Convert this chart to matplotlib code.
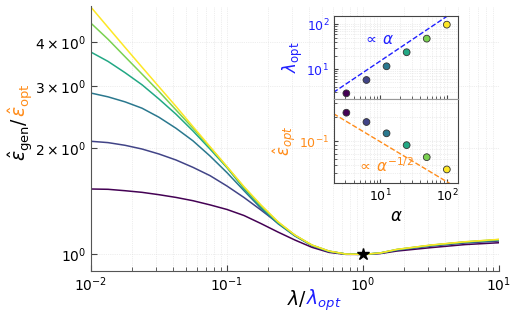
"""
Generalisation error ratio vs regularisation, with inset of optimal values
"""
import numpy as np
import matplotlib
matplotlib.use("Agg")
from matplotlib import pyplot as plt
from matplotlib import ticker

BLUE = "#1f1fff"
ORANGE = "#ff8c1a"

# ---- main panel data ----
lam_ratio = [0.01, 0.01334, 0.01778, 0.02371, 0.03162, 0.04217, 0.05623,
             0.07499, 0.1, 0.1334, 0.1778, 0.2371, 0.3162, 0.4217, 0.5623,
             0.7499, 1.0, 1.334, 1.778, 3.162, 5.623, 10.0]
err_a3 = [1.533, 1.530, 1.516, 1.500, 1.477, 1.451, 1.420, 1.382, 1.341,
          1.289, 1.223, 1.157, 1.098, 1.047, 1.013, 1.0, 1.0,
          1.005, 1.022, 1.045, 1.066, 1.079]
err_a6 = [2.094, 2.076, 2.040, 1.991, 1.927, 1.853, 1.766, 1.673, 1.563,
          1.450, 1.336, 1.227, 1.131, 1.058, 1.017, 1.002, 1.0,
          1.007, 1.028, 1.056, 1.077, 1.091]
err_a12 = [2.87, 2.80, 2.71, 2.60, 2.45, 2.28, 2.10, 1.902, 1.706,
           1.516, 1.351, 1.222, 1.127, 1.060, 1.020, 1.002, 1.0,
           1.008, 1.030, 1.059, 1.082, 1.098]
err_a25 = [3.75, 3.53, 3.28, 3.03, 2.76, 2.50, 2.24, 1.991, 1.762,
           1.536, 1.366, 1.230, 1.132, 1.061, 1.021, 1.002, 1.0,
           1.009, 1.032, 1.061, 1.084, 1.099]
err_a50 = [4.53, 4.08, 3.64, 3.25, 2.90, 2.57, 2.28, 2.013, 1.772,
           1.550, 1.375, 1.235, 1.133, 1.062, 1.021, 1.002, 1.0,
           1.009, 1.033, 1.062, 1.085, 1.102]
err_a100 = [5.03, 4.41, 3.87, 3.40, 2.99, 2.63, 2.305, 2.022, 1.774,
            1.556, 1.381, 1.238, 1.134, 1.063, 1.022, 1.002, 1.0,
            1.009, 1.033, 1.063, 1.086, 1.103]
curves = [err_a3, err_a6, err_a12, err_a25, err_a50, err_a100]

# ---- inset data ----
alpha = [3.125, 6.25, 12.5, 25, 50, 100]
lam_opt = [2.86, 5.68, 11.5, 23.7, 47.7, 98]
eps_opt = [0.226, 0.173, 0.125, 0.089, 0.063, 0.0443]
ref_alpha = [2, 150]
ref_lam = [3.0, 225]
ref_eps = [0.22, 0.0254]

colors = [plt.cm.viridis(v) for v in np.linspace(0, 1, len(curves))]

fig = plt.figure(figsize=(5.19, 3.2), dpi=100)
W, H = 519, 320


def box(x0, y0, x1, y1):
    # pixel box (top-left origin) -> figure rect
    return [x0 / W, 1 - y1 / H, (x1 - x0) / W, (y1 - y0) / H]


ax = fig.add_axes(box(91, 6, 499, 271))
for c, y in zip(colors, curves):
    ax.plot(lam_ratio, y, color=c, lw=1.1)
ax.plot([1.0], [1.0], marker="*", color="k", ms=9, zorder=5)
ax.set_xscale("log")
ax.set_yscale("log")
ax.set_xlim(0.01, 10)
ax.set_ylim(0.897, 5.07)
ax.yaxis.set_major_locator(ticker.FixedLocator([1, 2, 3, 4]))
ax.yaxis.set_minor_locator(ticker.NullLocator())
ax.set_yticklabels([r"$10^0$", r"$2\times10^0$", r"$3\times10^0$",
                    r"$4\times10^0$"])
ax.xaxis.set_major_locator(ticker.LogLocator(base=10, numticks=10))
ax.xaxis.set_minor_locator(ticker.LogLocator(base=10, subs=np.arange(2, 10),
                                             numticks=20))
ax.xaxis.set_minor_formatter(ticker.NullFormatter())
ax.tick_params(direction="in", labelsize=10, length=4, color="#444444")
ax.tick_params(which="minor", direction="in", length=3, color="#444444")
for s in ["top", "right"]:
    ax.spines[s].set_visible(False)
for s in ["left", "bottom"]:
    ax.spines[s].set_color("#555555")
ax.grid(True, which="both", ls=":", lw=0.5, color="#dddddd")

# two-colour labels
fig.canvas.draw()
r = fig.canvas.get_renderer()
tx = 27 / W
t1 = fig.text(tx, 1 - 161 / H, r"$\hat{\varepsilon}_{\rm gen}/$", fontsize=13.5,
              rotation=90, rotation_mode="anchor", ha="left", va="baseline")
bb = t1.get_window_extent(r)
fig.text(tx, bb.y1 / fig.bbox.height, r"$\hat{\varepsilon}_{\rm opt}$",
         fontsize=13.5, color=ORANGE, rotation=90, rotation_mode="anchor",
         ha="left", va="baseline")

t2 = fig.text(287 / W, 1 - 305 / H, r"$\lambda/$", fontsize=13.5,
              ha="left", va="baseline")
bb = t2.get_window_extent(r)
fig.text((bb.x1 - 1) / fig.bbox.width, 1 - 305 / H, r"$\lambda_{opt}$",
         fontsize=13.5, color=BLUE, ha="left", va="baseline")

# ---- inset ----
ax1 = fig.add_axes(box(334, 16, 458, 98.7))
ax2 = fig.add_axes(box(334, 98.7, 458, 183))
for a in (ax1, ax2):
    a.set_xscale("log")
    a.set_yscale("log")
    a.set_xlim(2.04, 147)
    a.grid(True, which="both", ls=":", lw=0.5, color="#dddddd")
    a.tick_params(which="both", direction="in", labelsize=9,
                  color="#444444")
    a.tick_params(which="major", length=3)
    a.tick_params(which="minor", length=2)
    for s in a.spines.values():
        s.set_color("#444444")
ax1.spines["bottom"].set_color("#999999")
ax2.spines["top"].set_color("#999999")

ax1.plot(ref_alpha, ref_lam, ls="--", color=BLUE, lw=1.0)
ax1.scatter(alpha, lam_opt, c=colors, s=24, edgecolors="#333333",
            linewidths=0.6, zorder=4)
ax1.set_ylim(2.17, 153)
ax1.tick_params(axis="x", labelbottom=False)
ax1.tick_params(axis="y", labelcolor=BLUE)
ax1.text(5.6, 37, r"$\propto\,\alpha$", color=BLUE, fontsize=11)
ax1.set_ylabel(r"$\lambda_{\rm opt}$", color=BLUE, fontsize=12, labelpad=1)

ax2.plot(ref_alpha, ref_eps, ls="--", color=ORANGE, lw=1.0)
ax2.scatter(alpha, eps_opt, c=colors, s=24, edgecolors="#333333",
            linewidths=0.6, zorder=4)
ax2.set_ylim(0.03, 0.338)
ax2.yaxis.set_major_locator(ticker.FixedLocator([0.1]))
ax2.yaxis.set_minor_formatter(ticker.NullFormatter())
ax2.tick_params(axis="y", labelcolor=ORANGE)
ax2.text(4.5, 0.041, r"$\propto\,\alpha^{-1/2}$", color=ORANGE, fontsize=11)
ax2.set_ylabel(r"$\hat{\varepsilon}_{opt}$", color=ORANGE, fontsize=12,
               labelpad=1)
ax2.set_xlabel(r"$\alpha$", fontsize=12, labelpad=2)

fig.savefig("out.png", dpi=100)
